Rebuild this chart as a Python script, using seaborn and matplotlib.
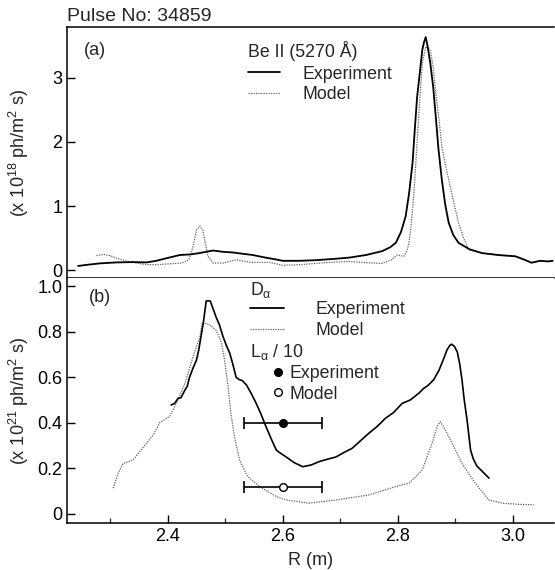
import numpy as np
import pandas as pd
import matplotlib
matplotlib.use("Agg")
import matplotlib.pyplot as plt
from matplotlib.lines import Line2D
from matplotlib.ticker import MultipleLocator, FuncFormatter
import seaborn as sns

# ---------------- data ----------------
# Panel (a): Be II (5270 A), units 1e18 ph/m^2 s
a_exp_R = [2.244, 2.262, 2.282, 2.311, 2.340, 2.363, 2.380, 2.398, 2.421, 2.440, 2.455, 2.479,
           2.496, 2.513, 2.530, 2.548, 2.570, 2.589, 2.600, 2.630, 2.658, 2.690, 2.716, 2.745,
           2.773, 2.787, 2.797, 2.806, 2.814, 2.820, 2.826, 2.830, 2.834, 2.839, 2.843, 2.846,
           2.849, 2.852, 2.857, 2.862, 2.866, 2.871, 2.877, 2.883, 2.889, 2.897, 2.906, 2.925,
           2.947, 2.975, 3.005, 3.020, 3.033, 3.048, 3.062, 3.070]
a_exp_v = [0.07, 0.09, 0.11, 0.125, 0.13, 0.125, 0.15, 0.19, 0.24, 0.25, 0.27, 0.31,
           0.29, 0.28, 0.26, 0.24, 0.20, 0.17, 0.15, 0.15, 0.16, 0.18, 0.20, 0.24,
           0.30, 0.36, 0.43, 0.60, 0.84, 1.20, 1.67, 2.20, 2.70, 3.10, 3.43, 3.55,
           3.63, 3.50, 3.22, 2.85, 2.44, 1.90, 1.41, 1.02, 0.74, 0.55, 0.43, 0.33,
           0.27, 0.24, 0.22, 0.17, 0.12, 0.15, 0.14, 0.15]

a_mod_R = [2.276, 2.288, 2.300, 2.311, 2.335, 2.363, 2.380, 2.398, 2.424, 2.436, 2.441, 2.446,
           2.450, 2.456, 2.461, 2.466, 2.470, 2.479, 2.496, 2.508, 2.519, 2.535, 2.548, 2.577,
           2.600, 2.630, 2.658, 2.690, 2.716, 2.745, 2.773, 2.790, 2.799, 2.811, 2.816, 2.820,
           2.824, 2.828, 2.833, 2.837, 2.843, 2.849, 2.857, 2.862, 2.866, 2.872, 2.877, 2.883,
           2.889, 2.898, 2.906, 2.915, 2.924, 2.947, 2.975, 3.005, 3.020, 3.033, 3.048, 3.062, 3.070]
a_mod_v = [0.23, 0.25, 0.23, 0.19, 0.13, 0.09, 0.09, 0.10, 0.115, 0.16, 0.27, 0.45,
           0.63, 0.69, 0.63, 0.40, 0.22, 0.115, 0.115, 0.14, 0.166, 0.14, 0.125, 0.125,
           0.08, 0.09, 0.11, 0.13, 0.14, 0.12, 0.11, 0.166, 0.24, 0.22, 0.30, 0.43,
           0.75, 1.15, 1.85, 2.44, 3.22, 3.48, 3.43, 3.15, 2.80, 2.35, 1.93, 1.65,
           1.41, 1.05, 0.74, 0.50, 0.32, 0.27, 0.24, 0.22, 0.17, 0.12, 0.15, 0.14, 0.15]

# Panel (b): D-alpha, units 1e21 ph/m^2 s
b_exp_R = [2.406, 2.412, 2.418, 2.423, 2.430, 2.434, 2.438, 2.444, 2.450, 2.454, 2.458, 2.462,
           2.467, 2.474, 2.479, 2.484, 2.490, 2.496, 2.502, 2.508, 2.513, 2.519, 2.524, 2.530,
           2.537, 2.545, 2.554, 2.562, 2.571, 2.580, 2.589, 2.597, 2.606, 2.620, 2.635, 2.650,
           2.664, 2.678, 2.693, 2.707, 2.721, 2.735, 2.750, 2.765, 2.779, 2.793, 2.808, 2.822,
           2.837, 2.845, 2.854, 2.863, 2.872, 2.880, 2.886, 2.891, 2.894, 2.899,
           2.904, 2.908, 2.912, 2.916, 2.921, 2.927, 2.932, 2.938, 2.948, 2.959]
b_exp_v = [0.478, 0.485, 0.507, 0.51, 0.544, 0.56, 0.60, 0.64, 0.675, 0.72, 0.78, 0.84,
           0.935, 0.935, 0.90, 0.865, 0.83, 0.78, 0.74, 0.705, 0.66, 0.60, 0.59, 0.585,
           0.566, 0.53, 0.485, 0.44, 0.383, 0.33, 0.28, 0.265, 0.25, 0.225, 0.207, 0.215,
           0.23, 0.24, 0.25, 0.27, 0.288, 0.32, 0.354, 0.385, 0.42, 0.445, 0.485, 0.50,
           0.53, 0.55, 0.566, 0.59, 0.63, 0.68, 0.72, 0.74, 0.745, 0.735,
           0.71, 0.66, 0.59, 0.50, 0.41, 0.28, 0.24, 0.21, 0.185, 0.157]

b_mod_R = [2.305, 2.314, 2.322, 2.340, 2.351, 2.363, 2.375, 2.386, 2.403, 2.415, 2.430, 2.444,
           2.456, 2.460, 2.473, 2.484, 2.493, 2.499, 2.505, 2.510, 2.516, 2.525, 2.539, 2.560,
           2.589, 2.606, 2.646, 2.693, 2.750, 2.797, 2.820, 2.843, 2.860, 2.869, 2.874, 2.880,
           2.895, 2.912, 2.935, 2.959, 2.982, 3.010, 3.037]
b_mod_v = [0.113, 0.18, 0.22, 0.237, 0.273, 0.31, 0.347, 0.40, 0.427, 0.485, 0.573, 0.69,
           0.778, 0.84, 0.83, 0.807, 0.756, 0.675, 0.558, 0.44, 0.34, 0.237, 0.164, 0.12,
           0.076, 0.061, 0.047, 0.061, 0.083, 0.12, 0.135, 0.193, 0.31, 0.383, 0.405, 0.383,
           0.31, 0.222, 0.135, 0.061, 0.047, 0.042, 0.04]

# L-alpha / 10 points
la_R = [2.60]
la_R_err = [0.068]
la_exp_v = [0.40]
la_mod_v = [0.12]

# ---------------- style ----------------
sns.set_theme(style="ticks")
plt.rcParams['font.family'] = ['Liberation Sans', 'DejaVu Sans']
plt.rcParams['mathtext.fontset'] = 'custom'
plt.rcParams['mathtext.rm'] = 'Liberation Sans'
plt.rcParams['mathtext.it'] = 'Liberation Sans'
plt.rcParams['mathtext.sf'] = 'Liberation Sans'

FS = 13
LFS = 12.8
model_color = '#606060'
model_ls = (0, (1, 1))

fig = plt.figure(figsize=(5.55, 5.7), dpi=100)
L, R_ = 0.121, 0.998
ax_a = fig.add_axes([L, 0.512, R_ - L, 0.953 - 0.512])
ax_b = fig.add_axes([L, 0.0825, R_ - L, 0.512 - 0.0825], sharex=ax_a)

df_a_exp = pd.DataFrame({'R': a_exp_R, 'v': a_exp_v})
df_a_mod = pd.DataFrame({'R': a_mod_R, 'v': a_mod_v})
df_b_exp = pd.DataFrame({'R': b_exp_R, 'v': b_exp_v})
df_b_mod = pd.DataFrame({'R': b_mod_R, 'v': b_mod_v})

sns.lineplot(data=df_a_mod, x='R', y='v', ax=ax_a, color=model_color, lw=0.9,
             linestyle=model_ls, estimator=None, sort=False)
sns.lineplot(data=df_a_exp, x='R', y='v', ax=ax_a, color='black', lw=1.3,
             estimator=None, sort=False)
sns.lineplot(data=df_b_mod, x='R', y='v', ax=ax_b, color=model_color, lw=0.9,
             linestyle=model_ls, estimator=None, sort=False)
sns.lineplot(data=df_b_exp, x='R', y='v', ax=ax_b, color='black', lw=1.2,
             estimator=None, sort=False)

ax_b.errorbar(la_R, la_exp_v, xerr=la_R_err, fmt='o', color='black', mfc='black',
              ms=5.5, capsize=4, elinewidth=1.2, capthick=1.2)
ax_b.errorbar(la_R, la_mod_v, xerr=la_R_err, fmt='o', color='black', mfc='white',
              ms=5.5, capsize=4, elinewidth=1.2, capthick=1.2)

for ax in (ax_a, ax_b):
    ax.set_xlabel('')
    ax.set_ylabel('')
    ax.spines['right'].set_visible(False)
    for s in ('left', 'top', 'bottom'):
        ax.spines[s].set_linewidth(1.1)
        ax.spines[s].set_color('black')
    ax.tick_params(direction='in', length=6, width=1, labelsize=FS, colors='black')
    ax.tick_params(which='minor', direction='in', length=3.5, width=0.9)

ax_a.set_xlim(2.225, 3.072)
ax_a.set_ylim(-0.12, 3.79)
ax_a.set_yticks([0, 1, 2, 3])
ax_a.tick_params(axis='x', which='both', bottom=False, labelbottom=False)

ax_b.set_ylim(-0.04, 1.035)
ax_b.set_yticks([0, 0.2, 0.4, 0.6, 0.8, 1.0])
ax_b.yaxis.set_major_formatter(FuncFormatter(lambda v, p: '0' if abs(v) < 1e-9 else f'{v:.1f}'))
ax_b.set_xticks([2.4, 2.6, 2.8, 3.0])
ax_b.xaxis.set_major_formatter(FuncFormatter(lambda v, p: f'{v:.1f}'))
ax_b.xaxis.set_minor_locator(MultipleLocator(0.1))
ax_b.spines['top'].set_visible(False)

ax_b.set_xlabel('R (m)', fontsize=FS, labelpad=5)
ax_a.set_ylabel('(x 10$^{18}$ ph/m$^2$ s)', fontsize=FS)
ax_b.set_ylabel('(x 10$^{21}$ ph/m$^2$ s)', fontsize=FS)
ax_a.yaxis.set_label_coords(-0.074, 0.5)
ax_b.yaxis.set_label_coords(-0.074, 0.5)

ax_a.text(0.0, 1.008, 'Pulse No: 34859', transform=ax_a.transAxes, fontsize=14,
          ha='left', va='bottom')
ax_a.text(0.035, 0.905, '(a)', transform=ax_a.transAxes, fontsize=FS, ha='left', va='center')
ax_b.text(0.045, 0.92, '(b)', transform=ax_b.transAxes, fontsize=FS, ha='left', va='center')

# legend handles
h_exp = Line2D([], [], color='black', lw=1.3)
h_mod = Line2D([], [], color=model_color, lw=0.9, linestyle=model_ls)
h_pe = Line2D([], [], color='black', marker='o', ms=5.5, mfc='black', ls='none')
h_pm = Line2D([], [], color='black', marker='o', ms=5.5, mfc='white', ls='none', mew=1)

# panel (a) legend
ax_a.text(0.372, 0.902, 'Be II (5270 Å)', transform=ax_a.transAxes, fontsize=LFS,
          ha='left', va='center')
ax_a.legend([h_exp, h_mod], ['Experiment', 'Model'],
            loc='upper left', bbox_to_anchor=(0.372, 0.846), frameon=False,
            fontsize=LFS, handlelength=1.8, handletextpad=1.25,
            labelspacing=0.22, borderaxespad=0, borderpad=0)

# panel (b) legends
ax_b.text(0.376, 0.952, r'D$_{\alpha}$', transform=ax_b.transAxes, fontsize=LFS,
          ha='left', va='center')
leg_b1 = ax_b.legend([h_exp, h_mod], ['Experiment', 'Model'],
                     loc='upper left', bbox_to_anchor=(0.376, 0.905), frameon=False,
                     fontsize=LFS, handlelength=1.9, handletextpad=1.75,
                     labelspacing=0.22, borderaxespad=0, borderpad=0)
ax_b.add_artist(leg_b1)
ax_b.text(0.376, 0.697, r'L$_{\alpha}$ / 10', transform=ax_b.transAxes, fontsize=LFS,
          ha='left', va='center')
ax_b.legend([h_pe, h_pm], ['Experiment', 'Model'],
            loc='upper left', bbox_to_anchor=(0.418, 0.645), frameon=False,
            fontsize=LFS, handlelength=0.8, handletextpad=0.25,
            labelspacing=0.2, borderaxespad=0, borderpad=0)

fig.savefig('out.png', dpi=100)
